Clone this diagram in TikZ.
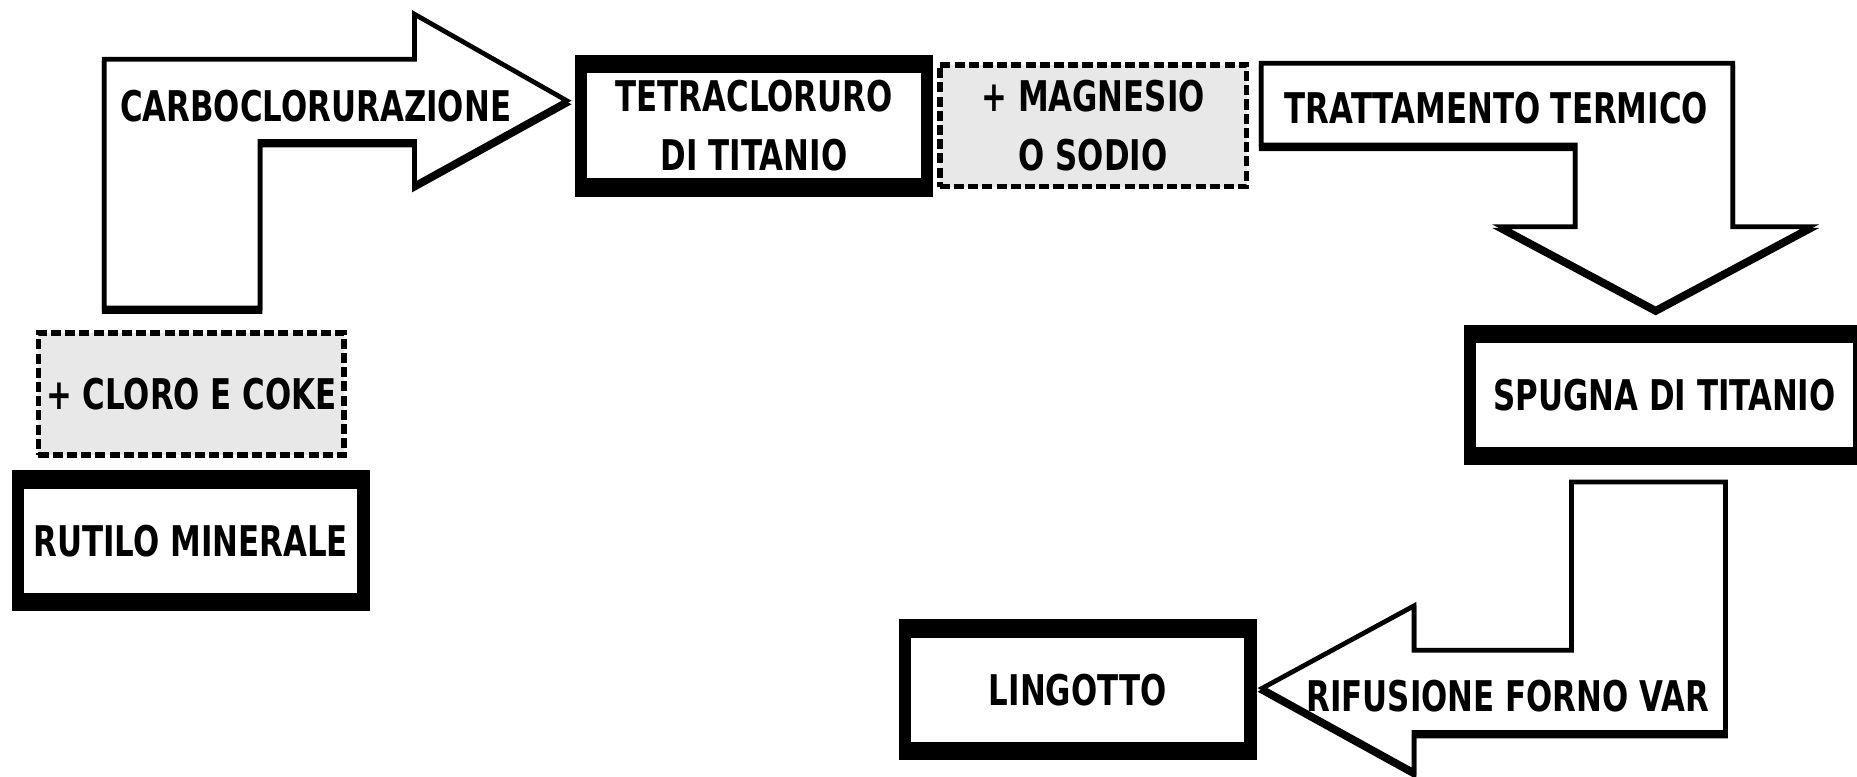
\documentclass[tikz,border=0pt]{standalone}
\usepackage{fontspec}
\newfontfamily\lab{DejaVu Sans}[FakeStretch=0.73]
\definecolor{boxgray}{RGB}{232,232,232}
\begin{document}
\begin{tikzpicture}[x=1pt,y=-1pt,
  lbl/.style={font=\lab\bfseries\fontsize{35.7}{49.5}\selectfont, align=center, inner sep=0pt, text=black},
  thickbox/.style={lbl, fill=black,
    path picture={\fill[white] ([shift={(10.5pt,15.5pt)}]path picture bounding box.south west) rectangle ([shift={(-10.5pt,-15.5pt)}]path picture bounding box.north east);}},
  dashbox/.style={lbl, draw=black, line width=5pt, dash pattern=on 8.5pt off 3.5pt, fill=boxgray},
  blockarrow/.style={draw=black, fill=white, line width=4pt, miter limit=10,
    preaction={draw=black, fill=black, line width=4pt, transform canvas={yshift=-3pt}}}
]
\useasboundingbox[fill=white] (0,0) rectangle (1568,656);

% block arrows
\path[blockarrow] (88,260) -- (88,50) -- (350,50) -- (350,12) -- (478.5,85) -- (350,156) -- (350,119.5) -- (219.5,119.5) -- (219.5,260) -- cycle;
\path[blockarrow] (1065,53.5) -- (1463,53.5) -- (1463,191.5) -- (1528,191.5) -- (1398,261) -- (1268,191.5) -- (1330,191.5) -- (1330,122.5) -- (1065,122.5) -- cycle;
\path[blockarrow] (1327,407) -- (1457,407) -- (1457,618.5) -- (1194,618.5) -- (1194,651.5) -- (1066,581) -- (1194,511.5) -- (1194,549) -- (1327,549) -- cycle;

% arrow labels
\node[lbl] (carbo) at (266.5,90) {CARBOCLORURAZIONE};
\node[lbl] (tratt) at (1263.5,91) {TRATTAMENTO TERMICO};
\node[lbl] (rifus) at (1273,588) {RIFUSIONE FORNO VAR};

% boxes
\node[thickbox, minimum width=302pt, minimum height=119pt] (rutilo) at (161,456.5) {RUTILO MINERALE};
\node[thickbox, minimum width=302.5pt, minimum height=119.5pt] (tetra) at (636.75,106.25) {TETRACLORURO\\DI TITANIO};
\node[thickbox, minimum width=339pt, minimum height=118.5pt] (spugna) at (1405.5,333.75) {SPUGNA DI TITANIO};
\node[thickbox, minimum width=302pt, minimum height=119pt] (lingotto) at (910,582.5) {LINGOTTO};

\node[dashbox, minimum width=258pt, minimum height=103pt] (cloro) at (161.5,333) {+ CLORO E COKE};
\node[dashbox, minimum width=259pt, minimum height=103pt] (magnesio) at (923,106) {+ MAGNESIO\\O SODIO};
\end{tikzpicture}
\end{document}
